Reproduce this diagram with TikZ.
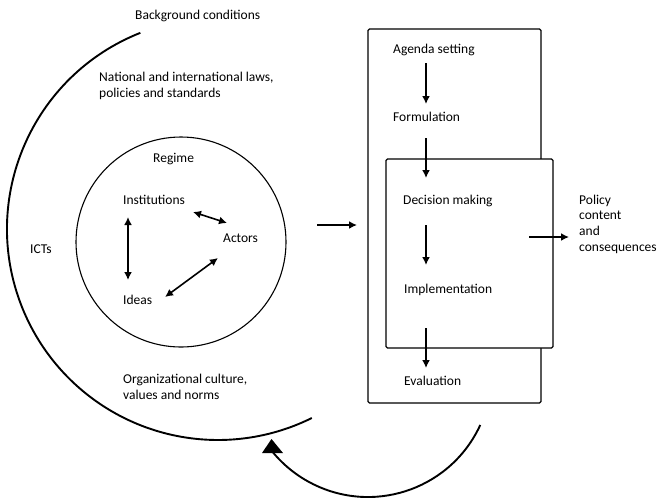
\documentclass[tikz,border=0pt]{standalone}
\usepackage{fontspec}
\setmainfont{Carlito}
\usetikzlibrary{arrows.meta}
\begin{document}
\begin{tikzpicture}[x=1pt,y=1pt,
  lbl/.style={anchor=base west, inner sep=0pt, align=left, font=\fontsize{13.5}{15.6}\selectfont},
  arr/.style={line width=1.6pt, -{Latex[length=8pt,width=8pt]}},
  darr/.style={line width=1.6pt, {Latex[length=8pt,width=8pt]}-{Latex[length=8pt,width=8pt]}},
  stagebox/.style={draw, line width=1.1pt, rounded corners=1.5pt, fill=white},
  bigarc/.style={line width=1.9pt}]
\useasboundingbox (0,0) rectangle (658,-499);
% outer background arc
\coordinate (oc) at (218,-229);
\draw[bigarc] (oc) ++(111.6:211) arc[start angle=111.6, end angle=296.4, radius=211pt];
% regime circle
\node[circle, draw, line width=1.1pt, minimum size=210pt, inner sep=0pt] (regimecircle) at (181,-242) {};
% left texts
\node[lbl] (background) at (135,-19) {Background conditions};
\node[lbl] (national) at (99,-97) {National and international laws,\\policies and standards};
\node[lbl] (regime) at (153,-162) {Regime};
\node[lbl] (institutions) at (123,-204) {Institutions};
\node[lbl] (actors) at (223,-242) {Actors};
\node[lbl] (ideas) at (123,-304) {Ideas};
\node[lbl] (icts) at (30,-253) {ICTs};
\node[lbl] (org) at (123,-399) {Organizational culture,\\values and norms};
% regime arrows
\coordinate (ia1) at (193,-212); \coordinate (ia2) at (227,-223);
\coordinate (ii1) at (128,-217); \coordinate (ii2) at (128,-280);
\coordinate (da1) at (165,-297); \coordinate (da2) at (218,-258);
\draw[darr] (ia1) -- (ia2);
\draw[darr] (ii1) -- (ii2);
\draw[darr] (da1) -- (da2);
% process boxes
\draw[stagebox] (368,-29) rectangle (541,-403);
\draw[stagebox] (386,-159) rectangle (553,-348);
\node[lbl] (agenda) at (393,-53) {Agenda setting};
\node[lbl] (formulation) at (393,-121) {Formulation};
\node[lbl] (decision) at (403,-204) {Decision making};
\node[lbl] (implementation) at (404,-293) {Implementation};
\node[lbl] (evaluation) at (404,-385) {Evaluation};
\node[lbl] (policy) at (579,-251) {Policy\\content\\and\\consequences};
\coordinate (p1a) at (426,-63);  \coordinate (p1b) at (426,-104);
\coordinate (p2a) at (426,-138); \coordinate (p2b) at (426,-178);
\coordinate (p3a) at (426,-225); \coordinate (p3b) at (426,-265);
\coordinate (p4a) at (426,-328); \coordinate (p4b) at (426,-368);
\draw[arr] (p1a) -- (p1b);
\draw[arr] (p2a) -- (p2b);
\draw[arr] (p3a) -- (p3b);
\draw[arr] (p4a) -- (p4b);
\coordinate (in1) at (317,-225); \coordinate (in2) at (357,-225);
\draw[arr] (in1) -- (in2);
\coordinate (out1) at (529,-237); \coordinate (out2) at (569,-237);
\draw[arr] (out1) -- (out2);
% feedback arrow
\coordinate (bc) at (368,-373.5);
\draw[bigarc] (bc) ++(-24.6:123.5) arc[start angle=-24.6, end angle=-140.7, radius=123.5pt];
\fill (262,-453) -- (283,-453) -- (271.5,-439) -- cycle;
\end{tikzpicture}
\end{document}
